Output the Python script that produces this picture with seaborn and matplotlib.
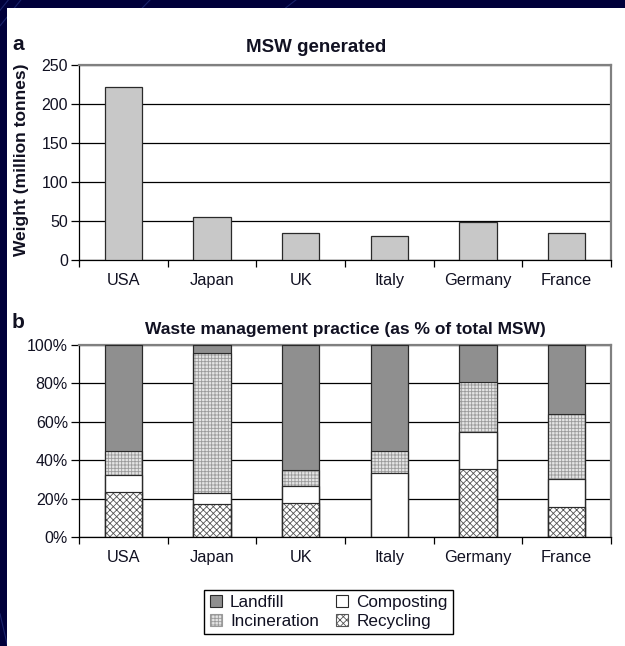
import matplotlib
matplotlib.use('Agg')
import matplotlib.pyplot as plt
import seaborn as sns
import numpy as np
from matplotlib.patches import Patch, Rectangle
from matplotlib.lines import Line2D

# data
countries = ['USA', 'Japan', 'UK', 'Italy', 'Germany', 'France']
msw_generated = [222, 55, 35, 31, 49, 35]   # million tonnes

# waste management practice, % of total MSW
recycling = [23.5, 17, 17.5, 0, 35.5, 15.5]
composting = [9, 6, 9, 33.5, 19, 14.5]
incineration = [12.5, 73, 8.5, 11.5, 26, 34]
landfill = [55, 4, 65, 55, 19.5, 36]

a_ticks = [0, 50, 100, 150, 200, 250]
b_ticks = [0, 20, 40, 60, 80, 100]
b_ticklabels = ['0%', '20%', '40%', '60%', '80%', '100%']

sns.set_style('white')
plt.rcParams['font.family'] = ['Liberation Sans', 'DejaVu Sans']
plt.rcParams['hatch.linewidth'] = 0.6
txt = '#111122'

fig = plt.figure(figsize=(6.25, 6.46), dpi=100)
fig.patch.set_facecolor('#00003a')

# slide background: faint diagonal streaks then the white panel
for x0, x1 in [(0.0, 0.05), (0.2, 0.26), (0.42, 0.5), (-0.02, 0.03)]:
    fig.add_artist(Line2D([x0, x1], [0.96, 1.02], transform=fig.transFigure,
                          color='#2a3a8a', lw=0.8, alpha=0.6, zorder=-3))
fig.add_artist(Line2D([0.0, 0.012], [0.05, 0.0], transform=fig.transFigure,
                      color='#2a3a8a', lw=0.8, alpha=0.6, zorder=-3))
fig.add_artist(Rectangle((7 / 625, 0), 1, 1 - 8 / 646, transform=fig.transFigure,
                         facecolor='white', edgecolor='none', zorder=-1))

ax_a = fig.add_axes([0.1264, 0.5975, 0.8512, 0.3019])
ax_b = fig.add_axes([0.1264, 0.1687, 0.8512, 0.2972])

bar_w = 0.42
edge = '#2a2a2a'
inc_hatch_col = '#9a9a9a'
rec_hatch_col = '#555555'

# ---- panel a
sns.barplot(x=countries, y=msw_generated, color='#c8c8c8', width=bar_w,
            edgecolor=edge, linewidth=0.9, saturation=1, errorbar=None, ax=ax_a, zorder=3)
ax_a.set_ylim(0, 250)
ax_a.set_yticks(a_ticks)
ax_a.set_yticklabels([str(t) for t in a_ticks])

# ---- panel b : stacked via cumulative layers, tallest first
cum1 = np.array(recycling)
cum2 = cum1 + np.array(composting)
cum3 = cum2 + np.array(incineration)
cum4 = cum3 + np.array(landfill)
# (values, face, hatch, hatch colour carried by the edge)
layers = [(cum4, '#8f8f8f', None, edge),
          (cum3, '#e4e4e4', '+++++', inc_hatch_col),
          (cum2, 'white', None, edge),
          (cum1, 'white', 'xxxxx', rec_hatch_col)]
for vals, fc, hatch, ec in layers:
    sns.barplot(x=countries, y=vals, color=fc, width=bar_w, edgecolor=ec,
                linewidth=0.8, saturation=1, errorbar=None, hatch=hatch, ax=ax_b, zorder=3)
# dark outlines on every segment boundary
for vals in (cum4, cum3, cum2, cum1):
    sns.barplot(x=countries, y=vals, fill=False, color=edge, width=bar_w,
                linewidth=0.8, errorbar=None, ax=ax_b, zorder=4)
ax_b.set_ylim(0, 100)
ax_b.set_yticks(b_ticks)
ax_b.set_yticklabels(b_ticklabels)

for ax in (ax_a, ax_b):
    ax.set_xlim(-0.5, 5.5)
    ax.grid(axis='y', color='black', lw=0.9, zorder=0)
    ax.set_axisbelow(True)
    ax.set_xlabel('')
    ax.set_ylabel('')
    for s in ('left', 'bottom'):
        ax.spines[s].set_color('black')
        ax.spines[s].set_linewidth(0.9)
    for s in ('top', 'right'):
        ax.spines[s].set_color('#808080')
        ax.spines[s].set_linewidth(1.6)
    ax.set_xticks(np.arange(-0.5, 6, 1), minor=True)
    ax.tick_params(axis='x', which='major', length=0, pad=9, labelsize=11.8, labelcolor=txt)
    ax.tick_params(axis='x', which='minor', length=5, width=0.9, color='black', direction='out', bottom=True)
    ax.tick_params(axis='y', length=6, width=0.9, color='black', direction='out', left=True,
                   labelsize=11.5, labelcolor=txt, pad=2)

ax_a.set_title('MSW generated', fontsize=13.5, fontweight='bold', color=txt, pad=9, x=0.445)
ax_b.set_title('Waste management practice (as % of total MSW)', fontsize=12.5,
               fontweight='bold', color=txt, pad=8)
fig.text(22 / 625, 1 - 160 / 646, 'Weight (million tonnes)', rotation=90, ha='center', va='center',
         fontsize=12.5, fontweight='bold', color=txt)
fig.text(18 / 625, 1 - 45 / 646, 'a', ha='center', va='center', fontsize=15, fontweight='bold', color=txt)
fig.text(18 / 625, 1 - 323 / 646, 'b', ha='center', va='center', fontsize=15, fontweight='bold', color=txt)

handles = [Patch(facecolor='#8f8f8f', edgecolor=edge, lw=0.8),
           Patch(facecolor='#e4e4e4', edgecolor=inc_hatch_col, lw=0.8, hatch='+++++'),
           Patch(facecolor='white', edgecolor=edge, lw=0.8),
           Patch(facecolor='white', edgecolor=rec_hatch_col, lw=0.8, hatch='xxxxx')]
labels = ['Landfill', 'Incineration', 'Composting', 'Recycling']
leg = fig.legend(handles, labels, ncol=2, loc='center', bbox_to_anchor=(0.526, 0.0526),
                 fontsize=12.3, frameon=True, fancybox=False, framealpha=1, edgecolor='black',
                 handlelength=0.7, handleheight=0.7, handletextpad=0.5, columnspacing=1.0,
                 borderpad=0.3, labelspacing=0.25, labelcolor=txt)
leg.get_frame().set_linewidth(1.0)

fig.savefig('out.png', dpi=100, facecolor=fig.get_facecolor())
